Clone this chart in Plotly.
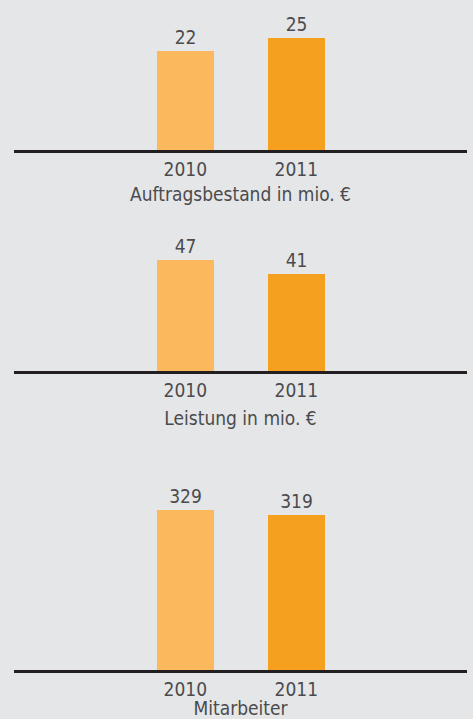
import plotly.graph_objects as go

years = ["2010", "2011"]
auftrag = [22, 25]
leistung = [47, 41]
mitarbeiter = [329, 319]
titles = ["Auftragsbestand in mio. €", "Leistung in mio. €", "Mitarbeiter"]
colors = ["#fbb85c", "#f5a01f"]

FONT = "DejaVu Sans Condensed, Liberation Sans Narrow, Roboto, sans-serif"
TXT = "#4b4b4d"
BG = "#e5e6e8"
FS = 19

W, H = 473, 719

def yd(bottom_px, top_px):
    return [1 - bottom_px / H, 1 - top_px / H]

panels = [
    (auftrag, [0, 30], yd(150, 15), 10),
    (leistung, [0, 60], yd(371, 229.4), 13),
    (mitarbeiter, [0, 400], yd(670, 476), 13),
]

fig = go.Figure()
layout = dict(
    width=W, height=H,
    margin=dict(l=0, r=0, t=0, b=0, autoexpand=False),
    paper_bgcolor=BG, plot_bgcolor=BG,
    showlegend=False,
    bargap=0,
)

for i, (vals, rng, dom, standoff) in enumerate(panels):
    n = "" if i == 0 else str(i + 1)
    fig.add_trace(go.Bar(
        x=years, y=vals,
        marker=dict(color=colors, line=dict(width=0)),
        width=0.511,
        text=[str(v) for v in vals],
        textposition="outside",
        textfont=dict(family=FONT, size=FS, color=TXT),
        cliponaxis=False,
        xaxis="x" + n, yaxis="y" + n,
        hoverinfo="skip",
    ))
    layout["xaxis" + n] = dict(
        domain=[14 / W, 467 / W],
        range=[-1.543, 2.538],
        type="category",
        anchor="y" + n,
        automargin=False,
        showline=True, linecolor="#231f20", linewidth=2.5,
        showgrid=False, zeroline=False,
        ticks="", ticklen=0,
        tickfont=dict(family=FONT, size=FS, color=TXT),
        title=dict(text=titles[i], font=dict(family=FONT, size=FS, color=TXT), standoff=standoff),
        fixedrange=True,
    )
    layout["yaxis" + n] = dict(
        domain=dom, range=rng,
        anchor="x" + n,
        automargin=False,
        visible=False,
        fixedrange=True,
    )

fig.update_layout(**layout)
fig.write_html(
    "out.html",
    config={"displayModeBar": False},
    post_script="document.body.style.margin='0';document.body.style.background='%s';" % BG,
)
